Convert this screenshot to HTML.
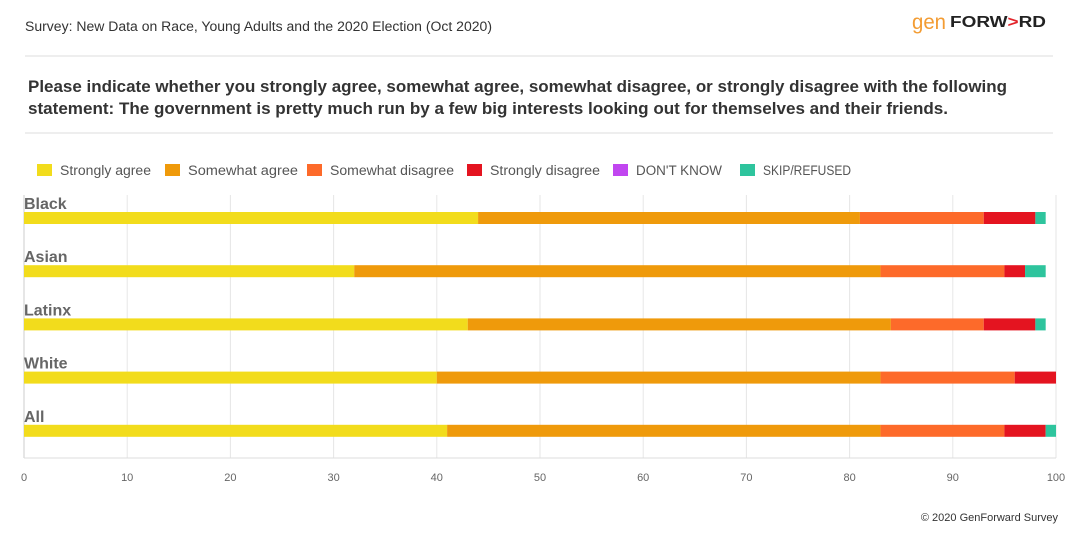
<!DOCTYPE html>
<html><head><meta charset="utf-8"><style>
body{margin:0;background:#fff;font-family:"Liberation Sans","DejaVu Sans",sans-serif;}
#wrap{position:relative;width:1081px;height:556px;overflow:hidden;}
</style></head><body>
<div id="wrap">
<svg id="chart" width="1081" height="556" xmlns="http://www.w3.org/2000/svg">
<text x="25" y="31" font-size="13.5" fill="#333" textLength="467" lengthAdjust="spacingAndGlyphs">Survey: New Data on Race, Young Adults and the 2020 Election (Oct 2020)</text>
<g>
<text x="912" y="29" font-size="21" fill="#f39c33" textLength="34" lengthAdjust="spacingAndGlyphs">gen</text>
<text x="950" y="27" font-size="16" font-weight="bold" fill="#222" textLength="96" lengthAdjust="spacingAndGlyphs">FORW<tspan fill="#e2232a">&gt;</tspan>RD</text>
</g>
<line x1="25" y1="56" x2="1053" y2="56" stroke="#ddd"/>
<text font-size="16.5" font-weight="bold" fill="#333"><tspan x="28" y="92" textLength="979" lengthAdjust="spacingAndGlyphs">Please indicate whether you strongly agree, somewhat agree, somewhat disagree, or strongly disagree with the following</tspan><tspan x="28" y="114" textLength="920" lengthAdjust="spacingAndGlyphs">statement: The government is pretty much run by a few big interests looking out for themselves and their friends.</tspan></text>
<line x1="25" y1="133" x2="1053" y2="133" stroke="#ddd"/>
<g id="legend"></g>
<g id="grid"></g>
<g id="bars"></g>
<g id="xaxis"></g>
<text x="1058" y="521" font-size="11" fill="#333" text-anchor="end">© 2020 GenForward Survey</text>
</svg>
</div>
<script>
const categories=["Black","Asian","Latinx","White","All"];
const seriesNames=["Strongly agree","Somewhat agree","Somewhat disagree","Strongly disagree","DON'T KNOW","SKIP/REFUSED"];
const stronglyAgree=[44,32,43,40,41];
const somewhatAgree=[37,51,41,43,42];
const somewhatDisagree=[12,12,9,13,12];
const stronglyDisagree=[5,2,5,4,4];
const dontKnow=[0,0,0,0,0];
const skipRefused=[1,2,1,0,1];
const xTicks=[0,10,20,30,40,50,60,70,80,90,100];
const colors=["#f2dc1c","#ef9a0b","#fd6a2a","#e41420","#c146f0","#2ec49d"];
const series=[stronglyAgree,somewhatAgree,somewhatDisagree,stronglyDisagree,dontKnow,skipRefused];
const NS="http://www.w3.org/2000/svg";
const x0=24,x1=1056,top0=195,bot=458;
const xs=v=>x0+(v/100)*(x1-x0);
const rowY=i=>212+i*53.2;
function mk(t,a,p){const e=document.createElementNS(NS,t);for(const k in a)e.setAttribute(k,a[k]);p.appendChild(e);return e;}
const lg=document.getElementById('legend');
const legX=[37,165,307,467,613,740];
const legW=[91,110,124,110,86,88];
seriesNames.forEach((n,i)=>{
  const lx=legX[i];
  const r=mk('rect',{x:lx,y:164,width:15,height:12,fill:colors[i]},lg);
  
  
  const t=mk('text',{x:lx+23,y:175,'font-size':13.5,fill:'#555',textLength:legW[i],lengthAdjust:'spacingAndGlyphs'},lg);
  t.textContent=n;
  
  
});
const g=document.getElementById('grid');
xTicks.forEach(v=>{
  const l=mk('line',{x1:xs(v),x2:xs(v),y1:top0,y2:bot,stroke:v===0?'#ccc':'#e6e6e6'},g);
  
  
});
const xa=document.getElementById('xaxis');
const al=mk('line',{x1:x0,x2:x1,y1:bot,y2:bot,stroke:'#ddd'},xa);


xTicks.forEach(v=>{
  const t=mk('text',{x:xs(v),y:481,'font-size':11,fill:'#666','text-anchor':'middle'},xa);
  t.textContent=v;
  
  
});
const bg=document.getElementById('bars');
categories.forEach((c,i)=>{
  const y=rowY(i);
  const lab=mk('text',{x:24,y:y-3,'font-size':16,'font-weight':'bold',fill:'#666'},bg);
  lab.textContent=c;
  
  
  let acc=0;
  series.forEach((s,k)=>{
    const v=s[i];
    if(v>0){
      const r=mk('rect',{x:xs(acc),y:y,width:xs(acc+v)-xs(acc),height:12,fill:colors[k]},bg);
      
      
    }
    acc+=v;
  });
});
</script>
</body></html>
